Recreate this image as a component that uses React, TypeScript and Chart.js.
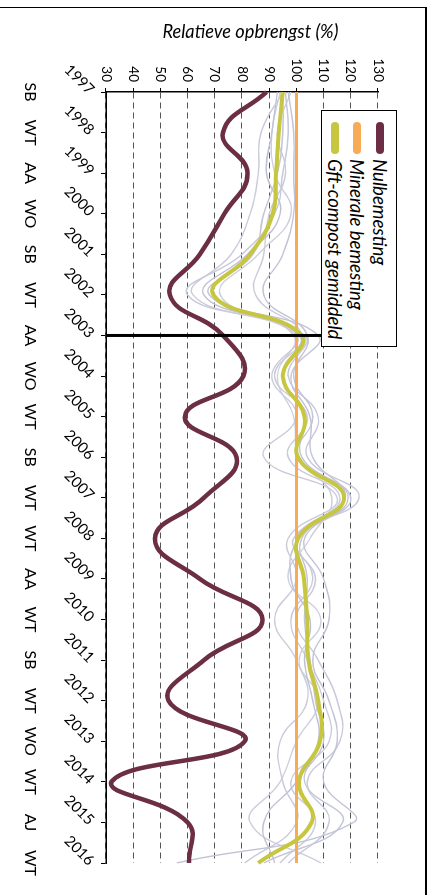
import React, { useEffect, useRef } from 'react';
import { Chart, registerables } from 'chart.js';

Chart.register(...registerables);

// ---- data ----
const years = ['1997', '1998', '1999', '2000', '2001', '2002', '2003', '2004', '2005', '2006', '2007', '2008', '2009', '2010', '2011', '2012', '2013', '2014', '2015', '2016'];
const crops = ['SB', 'WT', 'AA', 'WO', 'SB', 'WT', 'AA', 'WO', 'WT', 'SB', 'WT', 'WT', 'AA', 'WT', 'SB', 'WT', 'WO', 'WT', 'AJ', 'WT'];
const valueTicks = [30, 130, 10]; // min, max, step

const nulbemesting = [89, 73, 82, 73.5, 64.5, 53.5, 73, 80.5, 59, 78, 66, 48, 64.5, 87.5, 66, 53, 81, 32, 60, 60.5];
const mineraleBemesting = [100, 100, 100, 100, 100, 100, 100, 100, 100, 100, 100, 100, 100, 100, 100, 100, 100, 100, 100, 100];
const gftGemiddeld = [95, 93.5, 92.5, 91.3, 83, 69.5, 102, 95, 103, 100.6, 117.5, 100.7, 102.8, 104, 104.4, 108, 108.7, 101, 105.6, 86];

const gft1 = [97, 99, 99, 99, 95, 88, 104, 99, 106, 100, 120, 103, 110, 112, 106, 112, 115, 110, 121, 56];
const gft2 = [95, 87, 86, 83, 76, 62, 100, 91, 100, 88, 115, 97, 100, 92, 100, 104, 94, 95, 100, 81];
const gft3 = [93, 91, 89, 94, 82, 66, 101, 95, 103, 102, 119, 101, 98, 105, 103, 106, 108, 100, 88, 92];
const gft4 = [96, 97, 95, 92, 80, 60, 103, 97, 108, 104, 123, 99, 107, 100, 108, 115, 116, 104, 112, 97];
const gft5 = [94, 91, 92, 98, 86, 72, 99, 93, 99, 101, 113, 105, 97, 109, 101, 108, 100, 94, 83, 109];
const gft6 = [95, 95, 93, 88, 84, 68, 108, 98, 105, 106, 118, 102, 104, 103, 105, 107, 110, 103, 117, 88];
const gft7 = [98, 93, 96, 90, 88, 85, 102, 92, 104, 97, 116, 100, 106, 98, 104, 110, 112, 98, 107, 94];

const dividerYear = '2003';

const legendItems = [
  { label: 'Nulbemesting', color: '#6b2e44' },
  { label: 'Minerale bemesting', color: '#f7ab57' },
  { label: 'Gft-compost gemiddeld', color: '#c6c640' },
];

const FONT = 'Lato, "Open Sans", sans-serif';
const W = 895;
const H = 432;

export default function App() {
  const ref = useRef<HTMLCanvasElement | null>(null);

  useEffect(() => {
    if (!ref.current) return;
    const grays = [gft1, gft2, gft3, gft4, gft5, gft6, gft7];
    const grayColors = ['#c2c3d5', '#cbcbda', '#bfc0d3', '#c8c8dc', '#cecfdc', '#c3c4d6', '#cacbda'];
    const chart = new Chart(ref.current, {
      type: 'line',
      data: {
        labels: years,
        datasets: [
          {
            label: 'scheiding',
            data: [{ x: dividerYear, y: valueTicks[0] }, { x: dividerYear, y: valueTicks[1] }] as any,
            borderColor: '#000',
            borderWidth: 3,
            pointRadius: 0,
            tension: 0,
            order: 0,
          },
          {
            label: legendItems[0].label,
            data: nulbemesting,
            borderColor: legendItems[0].color,
            borderWidth: 4.5,
            pointRadius: 0,
            tension: 0.45,
            order: 1,
          },
          {
            label: legendItems[2].label,
            data: gftGemiddeld,
            borderColor: legendItems[2].color,
            borderWidth: 4,
            pointRadius: 0,
            tension: 0.45,
            order: 2,
          },
          {
            label: legendItems[1].label,
            data: mineraleBemesting,
            borderColor: legendItems[1].color,
            borderWidth: 3,
            pointRadius: 0,
            tension: 0,
            order: 3,
          },
          ...grays.map((g, i) => ({
            label: 'gft ' + (i + 1),
            data: g,
            borderColor: grayColors[i],
            borderWidth: 1.4,
            pointRadius: 0,
            tension: 0.45,
            order: 4,
          })),
        ],
      },
      options: {
        responsive: false,
        animation: false,
        devicePixelRatio: 1,
        layout: { padding: { left: 0, top: 54, right: 32, bottom: 14 } },
        plugins: {
          legend: { display: false },
          tooltip: { enabled: false },
        },
        scales: {
          x: {
            type: 'category',
            position: 'bottom',
            weight: 0,
            offset: false,
            afterFit: (s: any) => { s.height = 62; },
            grid: {
              display: true,
              drawOnChartArea: false,
              drawTicks: true,
              tickLength: 5,
              tickColor: '#000',
              tickWidth: 1,
            },
            border: { display: true, color: '#000', width: 1.5 },
            ticks: {
              autoSkip: false,
              minRotation: 45,
              maxRotation: 45,
              padding: 3,
              color: '#000',
              font: { family: FONT, size: 15 },
            },
          },
          x2: {
            type: 'category',
            position: 'bottom',
            weight: 1,
            offset: false,
            labels: crops,
            afterFit: (s: any) => { s.height = 30; },
            grid: { display: false, drawTicks: false, drawOnChartArea: false },
            border: { display: false },
            ticks: {
              autoSkip: false,
              minRotation: 0,
              maxRotation: 0,
              padding: 4,
              color: '#000',
              font: { family: FONT, size: 16 },
            },
          },
          y: {
            type: 'linear',
            min: valueTicks[0],
            max: valueTicks[1],
            afterFit: (s: any) => { s.width = 92; },
            ticks: {
              stepSize: valueTicks[2],
              padding: 6,
              color: '#000',
              font: { family: FONT, size: 13.5 },
            },
            grid: {
              color: '#555',
              lineWidth: 1,
              drawTicks: true,
              tickLength: 4,
              tickColor: '#000',
              tickWidth: 1,
            },
            border: { display: true, color: '#000', width: 1.5, dash: [6, 4] },
            title: {
              display: true,
              text: '\u2002\u2002Relatieve opbrengst (%)',
              color: '#000',
              font: { family: FONT, size: 18.3, style: 'italic' },
              padding: { top: 21, bottom: 0 },
            },
          },
        },
      },
    });
    return () => chart.destroy();
  }, []);

  return (
    <div>
      <div
        style={{
          position: 'fixed',
          left: 0,
          top: 0,
          width: W,
          height: H,
          transformOrigin: '0 0',
          transform: 'translate(432px, 0px) rotate(90deg)',
          background: '#fff',
        }}
      >
        <canvas ref={ref} width={W} height={H} style={{ width: W, height: H, display: 'block' }} />
        <div
          style={{
            position: 'absolute',
            left: 110,
            top: 35,
            width: 237,
            height: 76,
            boxSizing: 'border-box',
            border: '1px solid #000',
            background: '#fff',
            paddingTop: 5,
          }}
        >
          {legendItems.map((it) => (
            <div key={it.label} style={{ display: 'flex', alignItems: 'center', height: 22.5 }}>
              <div style={{ marginLeft: 11, width: 32, height: 8, borderRadius: 4, background: it.color, flex: 'none' }} />
              <span style={{ marginLeft: 5, fontFamily: FONT, fontStyle: 'italic', fontSize: 18.6, color: '#000', whiteSpace: 'nowrap' }}>
                {it.label}
              </span>
            </div>
          ))}
        </div>
      </div>
      <div
        style={{
          position: 'fixed',
          left: -4,
          top: 7,
          width: 429,
          height: 900,
          borderTop: '1.5px solid #000',
          borderRight: '2px solid #000',
          pointerEvents: 'none',
        }}
      />
    </div>
  );
}
